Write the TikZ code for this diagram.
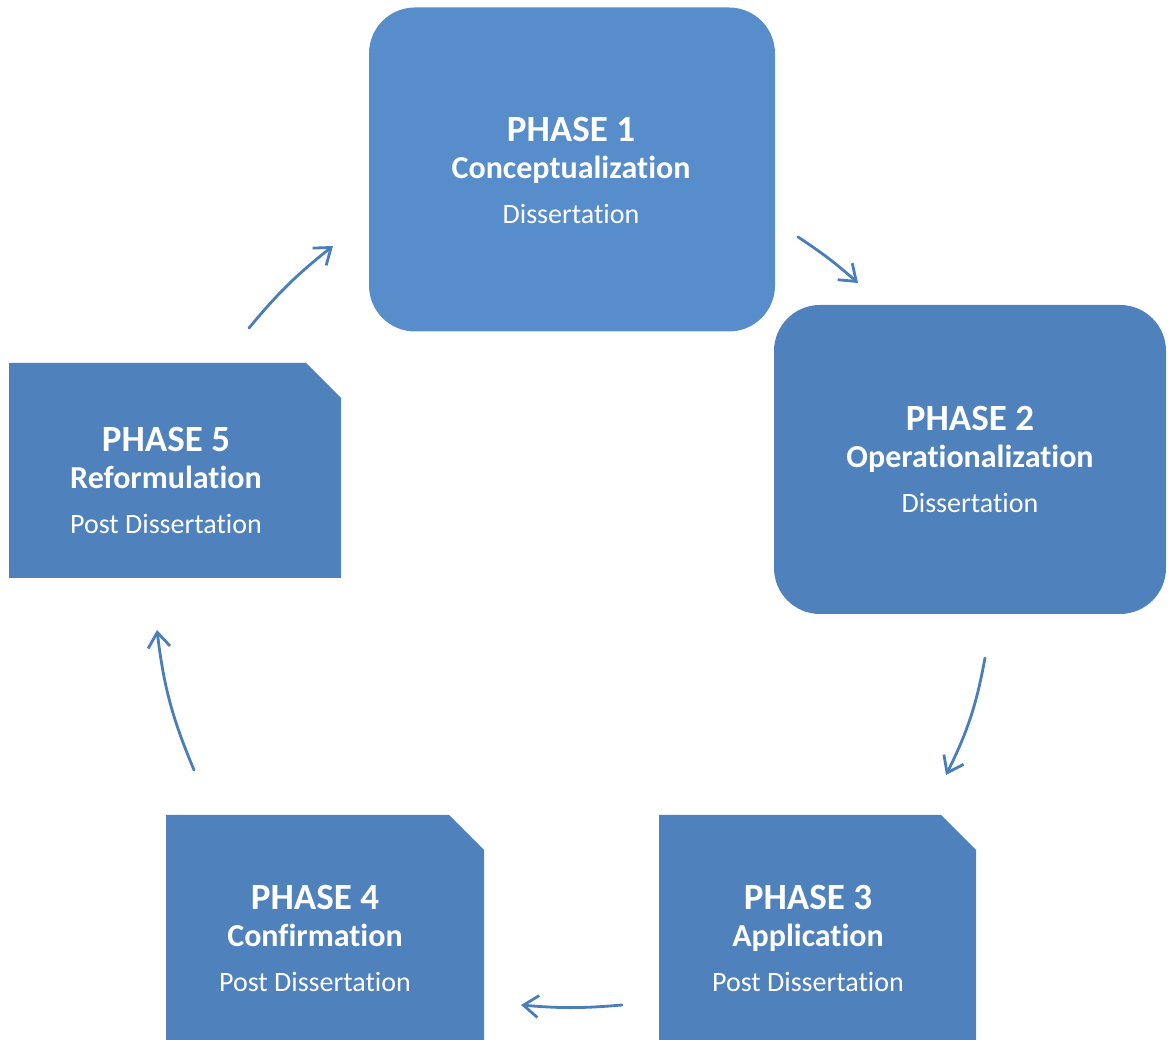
\documentclass[tikz,border=0pt]{standalone}
\usepackage{fontspec}
\setmainfont{Carlito}[Ligatures=NoCommon]
\usetikzlibrary{arrows.meta}

\definecolor{phaseblue}{RGB}{79,129,189}
\definecolor{phaselight}{RGB}{88,141,203}
\definecolor{flowblue}{RGB}{74,126,187}

\newcommand{\phasetext}[3]{%
	{\fontsize{37}{37}\selectfont\bfseries PHASE #1}\\
	{\fontsize{32}{37}\selectfont\bfseries #2}\\[8pt]
	{\fontsize{28}{37}\selectfont #3}}

\begin{document}
\begin{tikzpicture}[x=1pt,y=1pt,
	roundbox/.style={draw=none,rectangle,rounded corners=46pt,inner sep=0,outer sep=0},
	snipbox/.style={draw=none,rectangle,inner sep=0,outer sep=0},
	boxtext/.style={text=white,align=center,inner sep=0,anchor=north,font=\fontsize{28}{37}\selectfont},
	flow/.style={draw=flowblue,line width=2.8pt,line cap=round,-{Straight Barb[length=15pt,width=22pt,line width=2.8pt]}}]
	\clip (0,0) rectangle (1168,1040);
	\node[roundbox,fill=phaselight,minimum width=406pt,minimum height=324pt] (p1) at (572,870.5) {};
	\node[roundbox,fill=phaseblue,minimum width=392pt,minimum height=309pt] (p2) at (970,580.5) {};
	\node[snipbox,minimum width=317pt,minimum height=245pt] (p3) at (817.5,102.5) {};
	\node[snipbox,minimum width=318pt,minimum height=245pt] (p4) at (325,102.5) {};
	\node[snipbox,minimum width=332pt,minimum height=215pt] (p5) at (175,569.5) {};
	\foreach \p in {p3,p4,p5}
		\fill[phaseblue] (\p.south west) |- ([xshift=-35pt]\p.north east) -- ([yshift=-35pt]\p.north east) |- cycle;
	\node[boxtext] (t1) at (571,923) {\phasetext{1}{Conceptualization}{Dissertation}};
	\node[boxtext] (t2) at (970,634) {\phasetext{2}{Operationalization}{Dissertation}};
	\node[boxtext] (t3) at (808,155) {\phasetext{3}{Application}{Post Dissertation}};
	\node[boxtext] (t4) at (315,155) {\phasetext{4}{Confirmation}{Post Dissertation}};
	\node[boxtext] (t5) at (166,613) {\phasetext{5}{Reformulation}{Post Dissertation}};
	\coordinate (a1s) at (249,712);
	\coordinate (a1e) at (333,794);
	\coordinate (a2s) at (798,803);
	\coordinate (a2e) at (858,757);
	\coordinate (a3s) at (985,382);
	\coordinate (a3e) at (946,265);
	\coordinate (a4s) at (622,35);
	\coordinate (a4e) at (521,35);
	\coordinate (a5s) at (194,270);
	\coordinate (a5e) at (157,410);
	\draw[flow] (a1s) to[bend left=6] (a1e);
	\draw[flow] (a2s) to[bend left=4] (a2e);
	\draw[flow] (a3s) to[bend left=8] (a3e);
	\draw[flow] (a4s) to[bend left=5] (a4e);
	\draw[flow] (a5s) to[bend left=8] (a5e);
\end{tikzpicture}
\end{document}
